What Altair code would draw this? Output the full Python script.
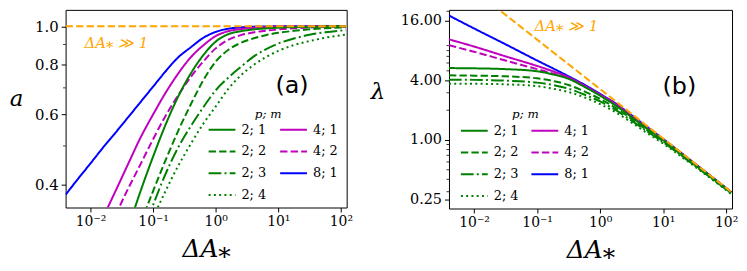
import altair as alt
import pandas as pd

# ---------------- data ----------------
series_order = ["2; 1", "2; 2", "2; 3", "2; 4", "4; 1", "4; 2", "8; 1"]
series_colors = ["#008000", "#008000", "#008000", "#008000", "#bf00bf", "#bf00bf", "#0000ff"]
series_dashes = [[1, 0], [7.4, 3.2], [12.8, 3.2, 2, 3.2], [2, 3.3], [1, 0], [7.4, 3.2], [1, 0]]

# panel (a): a vs Delta A*
xa = [0.004, 0.0063, 0.01, 0.0158, 0.0251, 0.0398, 0.0631, 0.1, 0.158, 0.251, 0.398,
      0.631, 1.0, 1.58, 2.51, 3.98, 6.31, 10.0, 17.8, 31.6, 56.2, 120.0]
a_8_1 = [0.377, 0.413, 0.452, 0.495, 0.54, 0.59, 0.645, 0.705, 0.77, 0.835, 0.885,
         0.935, 0.968, 0.986, 0.994, 0.998, 0.999, 1.0, 1.0, 1.0, 1.0, 1.0]
a_4_1 = [None, None, None, 0.33, 0.385, 0.45, 0.525, 0.60, 0.68, 0.76, 0.835,
         0.895, 0.945, 0.972, 0.984, 0.991, 0.995, 0.998, 0.999, 1.0, 1.0, 1.0]
a_4_2 = [None, None, None, None, 0.335, 0.39, 0.45, 0.52, 0.595, 0.67, 0.745,
         0.815, 0.88, 0.925, 0.95, 0.965, 0.975, 0.982, 0.989, 0.993, 0.996, 0.998]
a_2_1 = [None, None, None, None, None, 0.31, 0.385, 0.47, 0.565, 0.665, 0.76,
         0.845, 0.915, 0.955, 0.972, 0.982, 0.988, 0.992, 0.995, 0.997, 0.999, 1.0]
a_2_2 = [None, None, None, None, None, None, 0.32, 0.385, 0.46, 0.545, 0.635,
         0.73, 0.815, 0.872, 0.908, 0.932, 0.95, 0.963, 0.974, 0.983, 0.989, 0.994]
a_2_3 = [None, None, None, None, None, None, 0.29, 0.355, 0.425, 0.495, 0.56,
         0.625, 0.69, 0.742, 0.79, 0.838, 0.875, 0.905, 0.932, 0.952, 0.966, 0.978]
a_2_4 = [None, None, None, None, None, None, 0.28, 0.33, 0.385, 0.445, 0.505,
         0.568, 0.628, 0.695, 0.752, 0.798, 0.836, 0.867, 0.897, 0.918, 0.936, 0.953]
a_limit_x = [0.004, 124.0]
a_limit_y = [1.0, 1.0]

# panel (b): lambda vs Delta A*
xb = [0.004, 0.01, 0.0316, 0.1, 0.178, 0.316, 0.562, 1.0, 1.78, 3.16, 5.62, 10.0, 31.6, 120.0]
l_8_1 = [18.1, 13.4, 9.27, 6.36, 5.3, 4.4, 3.62, 2.92, 2.33, 1.78, 1.35, 1.025, 0.58, 0.298]
l_4_1 = [10.4, 8.8, 7.0, 5.6, 4.95, 4.3, 3.55, 2.88, 2.29, 1.75, 1.33, 1.015, 0.577, 0.297]
l_4_2 = [9.06, 7.8, 6.35, 5.2, 4.7, 4.2, 3.5, 2.84, 2.26, 1.72, 1.31, 1.005, 0.574, 0.296]
l_2_1 = [5.33, 5.3, 5.2, 4.95, 4.6, 4.15, 3.45, 2.8, 2.22, 1.7, 1.3, 1.0, 0.572, 0.296]
l_2_2 = [4.5, 4.47, 4.4, 4.2, 3.95, 3.6, 3.1, 2.6, 2.1, 1.63, 1.25, 0.97, 0.56, 0.292]
l_2_3 = [4.07, 4.05, 3.98, 3.8, 3.6, 3.3, 2.88, 2.45, 2.0, 1.57, 1.22, 0.95, 0.552, 0.289]
l_2_4 = [3.71, 3.7, 3.65, 3.5, 3.3, 3.05, 2.7, 2.3, 1.9, 1.5, 1.17, 0.92, 0.54, 0.285]
b_limit_x = [0.02, 124.0]
b_limit_y = [23.1, 0.2937]

a_ticks = [0.4, 0.6, 0.8, 1.0]
a_minor = [0.5, 0.7, 0.9]
b_ticks = [0.25, 1.0, 4.0, 16.0]
b_minor = [0.3, 0.4, 0.5, 0.6, 0.7, 0.8, 0.9, 2, 3, 5, 6, 7, 8, 9, 20]
x_ticks = [0.01, 0.1, 1, 10, 100]


def to_long(xs, table):
    rows = []
    for name, vals in table.items():
        for x, v in zip(xs, vals):
            if v is not None:
                rows.append({"x": x, "y": v, "series": name})
    return pd.DataFrame(rows)


df_a = to_long(xa, {"8; 1": a_8_1, "4; 1": a_4_1, "4; 2": a_4_2, "2; 1": a_2_1,
                    "2; 2": a_2_2, "2; 3": a_2_3, "2; 4": a_2_4})
df_b = to_long(xb, {"8; 1": l_8_1, "4; 1": l_4_1, "4; 2": l_4_2, "2; 1": l_2_1,
                    "2; 2": l_2_2, "2; 3": l_2_3, "2; 4": l_2_4})
lim_a = pd.DataFrame({"x": a_limit_x, "y": a_limit_y})
lim_b = pd.DataFrame({"x": b_limit_x, "y": b_limit_y})

SERIF = "DejaVu Serif"
XDOM = [0.004, 124]
x_label_expr = ("datum.value == 0.01 ? '10⁻²' : datum.value == 0.1 ? '10⁻¹' : "
                "datum.value == 1 ? '10⁰' : datum.value == 10 ? '10¹' : '10²'")


def panel(df, lim, ydom, yticks, yfmt, ysize, minor, ytitle, tx, ty,
          ann_x, ann_y, tag, tag_x, tag_y, lx, ly, pm_x, pm_y, row_pad, col_pad, W, H):
    xsc = alt.Scale(type="log", domain=XDOM, nice=False)
    ysc = alt.Scale(type="log", domain=ydom, nice=False)
    xaxis = alt.Axis(values=x_ticks, labelExpr=x_label_expr, title="ΔA⁎",
                     labelFont=SERIF, labelFontSize=14, labelColor="black",
                     titleFont=SERIF, titleFontSize=25, titleFontStyle="italic",
                     titleFontWeight="normal", titleColor="black", titlePadding=8,
                     tickSize=4.5, tickColor="black", domain=False, grid=False,
                     labelPadding=3)
    yaxis = alt.Axis(values=yticks, format=yfmt, title=ytitle,
                     labelFont=SERIF, labelFontSize=ysize, labelColor="black",
                     titleFont=SERIF, titleFontSize=23, titleFontStyle="italic",
                     titleFontWeight="normal", titleColor="black",
                     titleAngle=0, titleX=tx, titleY=ty, titleAlign="center",
                     titleBaseline="middle",
                     tickSize=4.5, tickColor="black", domain=False, grid=False,
                     labelPadding=3)
    leg = alt.Legend(title=None, orient="none", legendX=lx, legendY=ly,
                     columns=2, columnPadding=col_pad, rowPadding=row_pad,
                     symbolType="stroke", symbolSize=729, symbolStrokeWidth=2,
                     labelFont=SERIF, labelFontSize=13, labelColor="black",
                     labelOffset=5, padding=0)
    lines = alt.Chart(df).mark_line(strokeWidth=2, clip=True, interpolate="monotone").encode(
        x=alt.X("x:Q", scale=xsc, axis=xaxis),
        y=alt.Y("y:Q", scale=ysc, axis=yaxis),
        color=alt.Color("series:N", scale=alt.Scale(domain=series_order, range=series_colors),
                        legend=leg),
        strokeDash=alt.StrokeDash("series:N",
                                  scale=alt.Scale(domain=series_order, range=series_dashes),
                                  legend=leg),
    )
    limit = alt.Chart(lim).mark_line(strokeWidth=2, clip=True, color="#ffa500",
                                     strokeDash=[7.4, 3.2]).encode(
        x=alt.X("x:Q", scale=xsc, axis=xaxis), y=alt.Y("y:Q", scale=ysc, axis=yaxis))
    ticks = alt.Chart(pd.DataFrame({"y": minor})).mark_rule(color="black", strokeWidth=0.8).encode(
        y=alt.Y("y:Q", scale=ysc, axis=yaxis), x=alt.value(-2.5), x2=alt.value(0))
    ann = alt.Chart(pd.DataFrame({"t": ["ΔA⁎ ≫ 1"]})).mark_text(
        font=SERIF, fontSize=15, fontStyle="italic", color="#ffa500", align="left",
        baseline="alphabetic").encode(text="t:N", x=alt.value(ann_x), y=alt.value(ann_y))
    lab = alt.Chart(pd.DataFrame({"t": [tag]})).mark_text(
        font="DejaVu Sans", fontSize=24, color="black", align="center",
        baseline="alphabetic").encode(text="t:N", x=alt.value(tag_x), y=alt.value(tag_y))
    pm = alt.Chart(pd.DataFrame({"t": ["p; m"]})).mark_text(
        font=SERIF, fontSize=12, fontStyle="italic", color="black", align="center",
        baseline="middle").encode(text="t:N", x=alt.value(pm_x), y=alt.value(pm_y))
    return alt.layer(lines, limit, ticks, ann, lab, pm).properties(width=W, height=H)


pa = panel(df_a, lim_a, [0.35, 1.1], a_ticks, ".1f", 15, a_minor, "a", -50, 89,
           19, 38, "(a)", 228, 84, 143, 106, 204, 105, -1.5, 9, 283, 199)
pb = panel(df_b, lim_b, [0.203, 20.66], b_ticks, ".2f", 14.5, b_minor, "λ", -72, 82,
           86, 21, "(b)", 232, 85, 11, 107, 77, 105, -3.2, 8, 285, 200)

chart = alt.hconcat(pa, pb, spacing=16).resolve_scale(
    x="independent", y="independent", color="independent", strokeDash="independent"
).configure_view(stroke="black", strokeWidth=1).properties(
    padding={"left": 0, "top": 0, "right": 0, "bottom": 0}, background="white")

chart.save("out.html", embed_options={"renderer": "svg", "actions": False})
